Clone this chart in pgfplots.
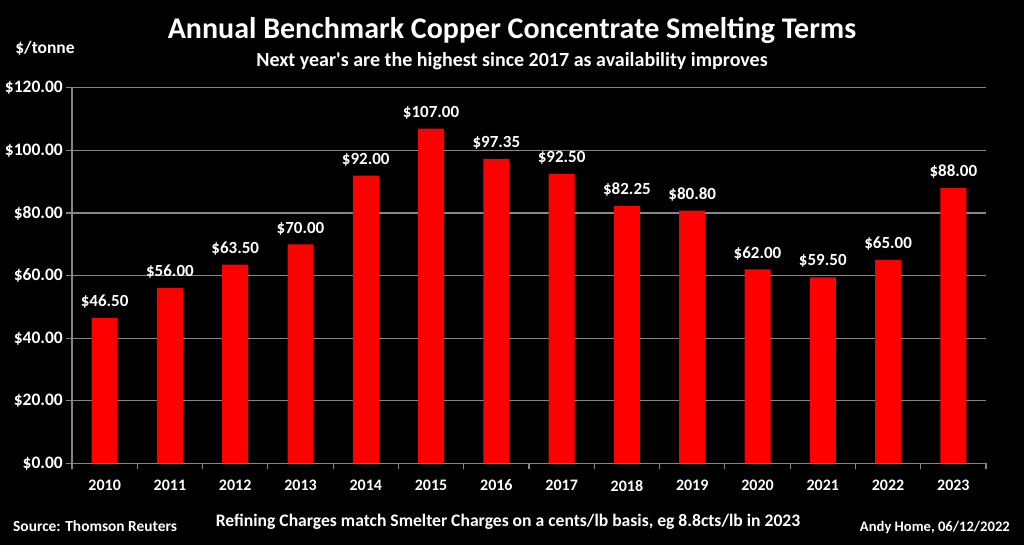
\documentclass[border=0pt]{standalone}
\usepackage{fontspec}
\setmainfont{Carlito}
\usepackage{pgfplots}
\pgfplotsset{compat=1.18}
\definecolor{gridgray}{HTML}{868686}
\begin{document}
\begin{tikzpicture}[x=1pt,y=1pt]
\fill[black] (0,0) rectangle (1024,545);
\begin{axis}[
  at={(72pt,81.5pt)}, anchor=south west,
  scale only axis, width=914pt, height=375.6pt,
  /pgf/number format/assume math mode=true,
  ymin=0, ymax=120, ytick={0,20,...,120},
  xmin=-0.5, xmax=13.5,
  xtick={0,...,13},
  xticklabels={2010,2011,2012,2013,2014,2015,2016,2017,2018,2019,2020,2021,2022,2023},
  minor xtick={-0.5,0.5,...,13.5},
  major x tick style={draw=none},
  minor tick length=6pt, major tick length=6pt,
  tick align=outside,
  axis x line*=bottom, axis y line*=left,
  axis line style={gridgray, line width=1.2pt},
  every tick/.style={gridgray, line width=1.2pt},
  ymajorgrids, grid style={gridgray, line width=1.2pt},
  yticklabel={\$\pgfmathprintnumber[fixed,fixed zerofill,precision=2]{\tick}},
  yticklabel style={font=\bfseries\fontsize{17.5}{19}\selectfont, text=white, xshift=-1pt, inner sep=2pt},
  xticklabel style={font=\bfseries\fontsize{16}{18}\selectfont, text=white, yshift=-7pt},
  ybar, bar width=26pt,
  nodes near coords={\$\pgfmathprintnumber[fixed,fixed zerofill,precision=2]{\pgfplotspointmeta}},
  every node near coord/.append style={font=\bfseries\fontsize{17}{19}\selectfont, text=white, yshift=6pt},
]
\addplot[fill=red, draw=none] coordinates {
(0,46.5) (1,56) (2,63.5) (3,70) (4,92) (5,107) (6,97.35) (7,92.5)
(8,82.25) (9,80.8) (10,62) (11,59.5) (12,65) (13,88)};
\end{axis}
\node[text=white, font=\bfseries\fontsize{30}{32}\selectfont] at (512,514) {Annual Benchmark Copper Concentrate Smelting Terms};
\node[text=white, font=\bfseries\fontsize{20}{22}\selectfont] at (512,484) {Next year\textquotesingle s are the highest since 2017 as availability improves};
\node[text=white, font=\bfseries\fontsize{17.5}{19}\selectfont] at (45,497) {\$/tonne};
\node[text=white, font=\bfseries\fontsize{15.4}{17}\selectfont, anchor=west, inner sep=0pt] at (13,19.3) {Source: Thomson Reuters};
\node[text=white, font=\bfseries\fontsize{17.6}{19}\selectfont] at (508,23.3) {Refining Charges match Smelter Charges on a cents/lb basis, eg 8.8cts/lb in 2023};
\node[text=white, font=\bfseries\fontsize{14.6}{16}\selectfont, anchor=east, inner sep=0pt] at (1010,17) {Andy Home, 06/12/2022};
\end{tikzpicture}
\end{document}
